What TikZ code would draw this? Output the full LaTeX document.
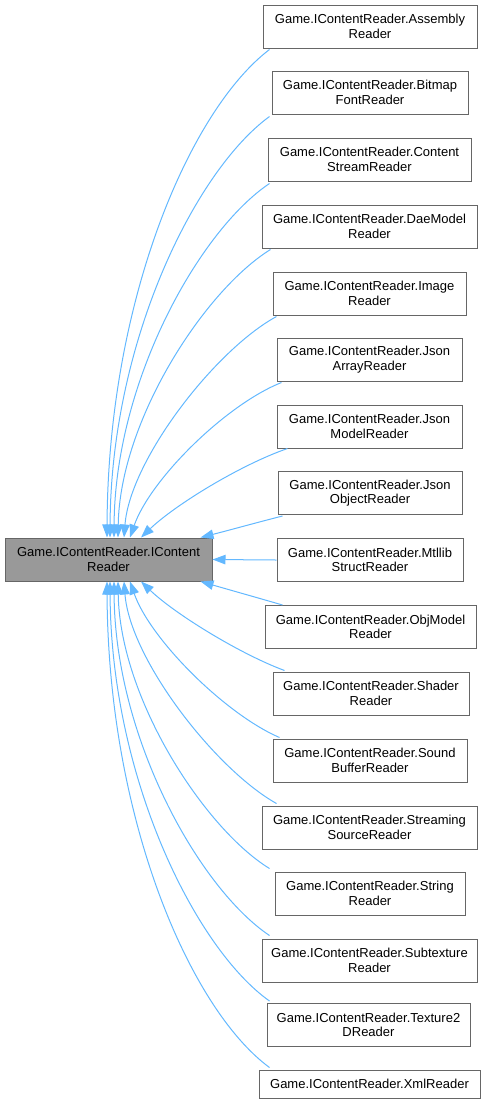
\documentclass[tikz,border=0pt]{standalone}
\usepackage{fontspec}
\setmainfont{Liberation Sans}
\usetikzlibrary{arrows.meta,calc}
\definecolor{edgeblue}{HTML}{63B8FF}
\definecolor{boxborder}{HTML}{666666}
\definecolor{mainfill}{HTML}{999999}
\begin{document}
\begin{tikzpicture}[x=1pt,y=-1pt,
  box/.style={draw=boxborder, line width=1pt, fill=white, inner sep=0pt, align=center,
    font=\fontsize{13}{14.5}\selectfont, minimum height=43pt},
  edge/.style={draw=edgeblue, line width=1pt, -{Triangle[length=13pt,width=9.5pt]}}]
\useasboundingbox (0,0) rectangle (486,1104);
% nodes
\node[box, fill=mainfill, minimum width=207pt] (main) at (108.5,559.5) {Game.IContentReader.IContent\\Reader};
\node[box, minimum width=214pt] (c1) at (370,26.5) {Game.IContentReader.Assembly\\Reader};
\node[box, minimum width=196pt] (c2) at (370,92.5) {Game.IContentReader.Bitmap\\FontReader};
\node[box, minimum width=203pt] (c3) at (369.5,159.5) {Game.IContentReader.Content\\StreamReader};
\node[box, minimum width=215pt] (c4) at (369.5,226.5) {Game.IContentReader.DaeModel\\Reader};
\node[box, minimum width=193pt] (c5) at (369.5,293.5) {Game.IContentReader.Image\\Reader};
\node[box, minimum width=185pt] (c6) at (369.5,359.5) {Game.IContentReader.Json\\ArrayReader};
\node[box, minimum width=185pt] (c7) at (369.5,426.5) {Game.IContentReader.Json\\ModelReader};
\node[box, minimum width=184pt] (c8) at (370,493) {Game.IContentReader.Json\\ObjectReader};
\node[box, minimum width=186pt] (c9) at (370,560) {Game.IContentReader.Mtllib\\StructReader};
\node[box, minimum width=211pt] (c10) at (370.5,627) {Game.IContentReader.ObjModel\\Reader};
\node[box, minimum width=196pt] (c11) at (371,693.5) {Game.IContentReader.Shader\\Reader};
\node[box, minimum width=194pt] (c12) at (370,760.5) {Game.IContentReader.Sound\\BufferReader};
\node[box, minimum width=215pt] (c13) at (369.5,827.5) {Game.IContentReader.Streaming\\SourceReader};
\node[box, minimum width=190pt] (c14) at (370,893.5) {Game.IContentReader.String\\Reader};
\node[box, minimum width=215pt] (c15) at (369.5,960.5) {Game.IContentReader.Subtexture\\Reader};
\node[box, minimum width=203pt] (c16) at (368.5,1025) {Game.IContentReader.Texture2\\DReader};
\node[box, minimum width=221pt, minimum height=28pt] (c17) at (369.5,1084) {Game.IContentReader.XmlReader};
% upper edges
\draw[edge] ($(c1.south west)+(7,1)$) .. controls (190,110) and (108,300) .. ($(main.north)+(-1.5,0)$);
\draw[edge] ($(c2.south west)+(-2,2)$) .. controls (196,170) and (111,340) .. ($(main.north)+(1.5,0)$);
\draw[edge] ($(c3.south west)+(2,2)$) .. controls (200,230) and (115,380) .. ($(main.north)+(5.5,0)$);
\draw[edge] ($(c4.south west)+(9,1)$) .. controls (205,290) and (120,420) .. ($(main.north)+(9.5,0)$);
\draw[edge] ($(c5.south west)+(4,1)$) .. controls (215,350) and (130,460) .. ($(main.north)+(15.5,0)$);
\draw[edge] ($(c6.south west)+(5,1)$) .. controls (225,405) and (150,480) .. ($(main.north)+(21.5,0)$);
\draw[edge] ($(c7.south west)+(11,0)$) .. controls (240,465) and (175,505) .. ($(main.north)+(32.5,0)$);
\draw[edge] ($(c8.south west)+(5,1)$) .. controls (255,523) and (230,530) .. ($(main.north east)+(-12,0)$);
% middle
\draw[edge] (c9.west) -- (main.east);
% lower edges
\draw[edge] ($(c10.north west)+(18,0)$) .. controls (255,597) and (230,590) .. ($(main.south east)+(-12,0)$);
\draw[edge] ($(c11.north west)+(12,-1)$) .. controls (240,654) and (175,614) .. ($(main.south)+(32.5,0)$);
\draw[edge] ($(c12.north west)+(7,-1)$) .. controls (225,714) and (150,639) .. ($(main.south)+(21.5,0)$);
\draw[edge] ($(c13.north west)+(15,-2)$) .. controls (215,769) and (130,659) .. ($(main.south)+(15.5,0)$);
\draw[edge] ($(c14.north west)+(-5,-3)$) .. controls (205,829) and (120,699) .. ($(main.south)+(9.5,0)$);
\draw[edge] ($(c15.north west)+(8,-3)$) .. controls (200,889) and (115,739) .. ($(main.south)+(5.5,0)$);
\draw[edge] ($(c16.north west)+(3,-2)$) .. controls (196,949) and (111,779) .. ($(main.south)+(1.5,0)$);
\draw[edge] ($(c17.north west)+(11,-2)$) .. controls (190,1009) and (108,819) .. ($(main.south)+(-1.5,0)$);
\end{tikzpicture}
\end{document}
